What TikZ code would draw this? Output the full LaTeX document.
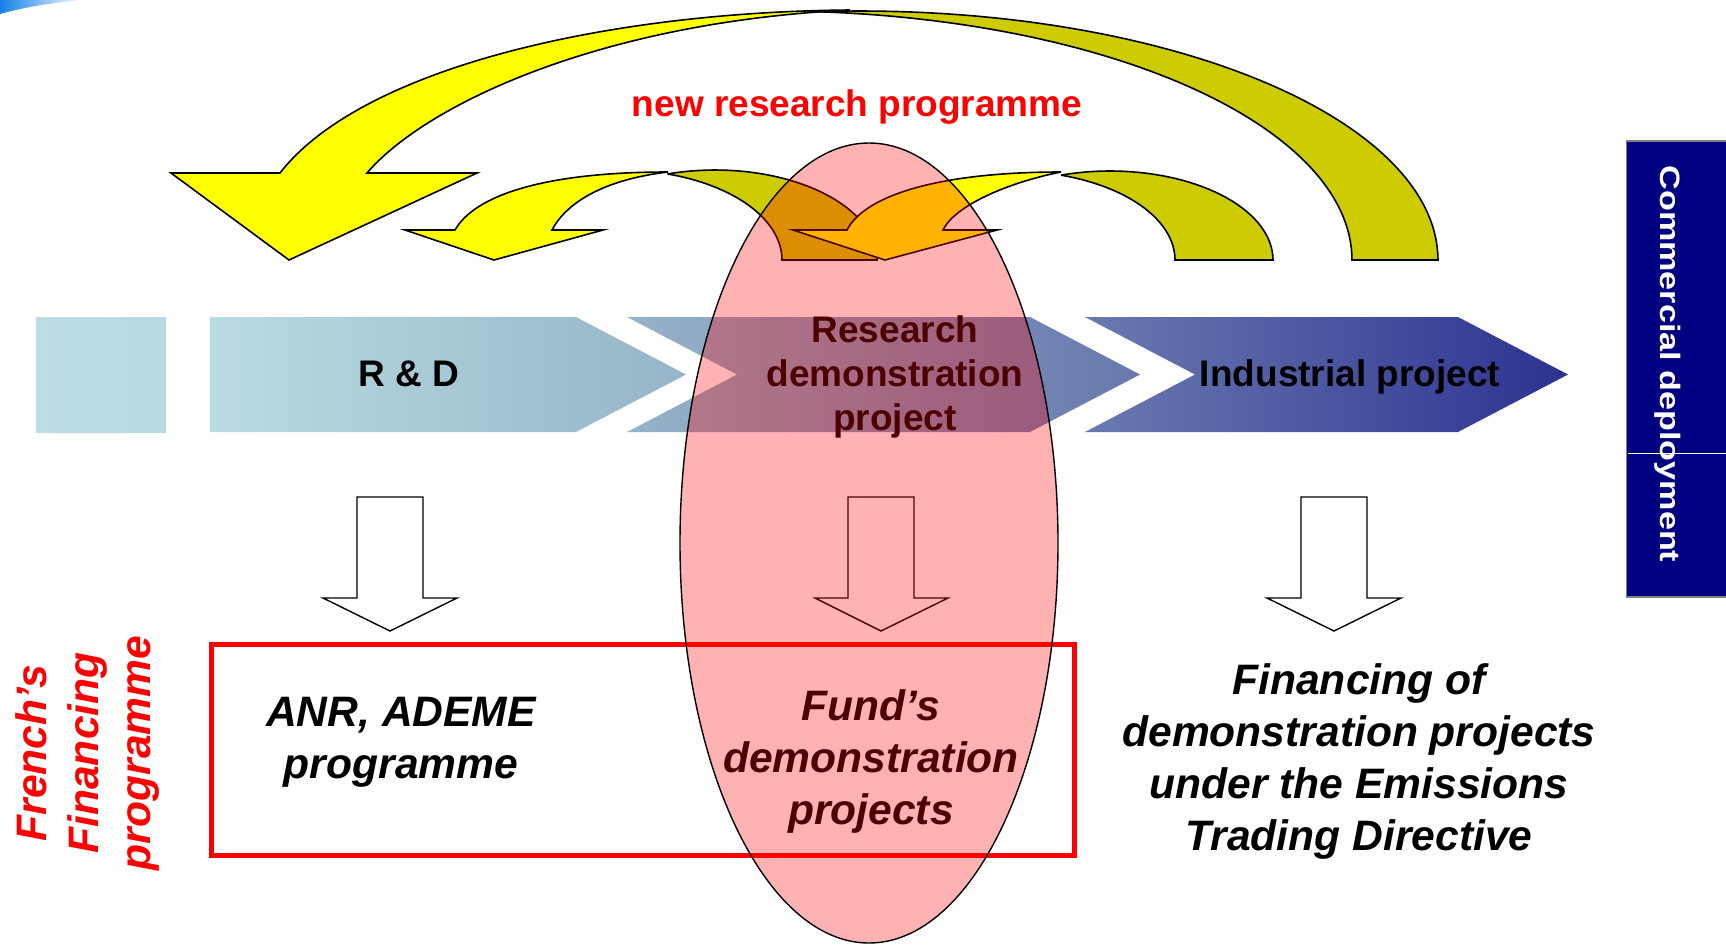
\documentclass[tikz,border=0pt]{standalone}
\usepackage{fontspec}
\setmainfont{Liberation Sans}
\newfontfamily\cdfont[FakeStretch=1.22]{Liberation Sans}
\definecolor{ylw}{RGB}{255,255,0}
\definecolor{olv}{RGB}{204,204,0}
\definecolor{gR1}{RGB}{186,223,226}
\definecolor{gR2}{RGB}{182,218,224}
\definecolor{gA1}{RGB}{184,220,225}
\definecolor{gA2}{RGB}{150,180,200}
\definecolor{gB1}{RGB}{150,179,201}
\definecolor{gB2}{RGB}{104,120,174}
\definecolor{gC1}{RGB}{106,122,176}
\definecolor{gC2}{RGB}{44,50,145}
\definecolor{navyc}{RGB}{0,0,128}
\definecolor{swoosh}{RGB}{20,130,230}
\tikzset{
  frontarr/.style={fill=ylw, draw=black, line width=0.8pt, line join=miter},
  backarr/.style={fill=olv, draw=black, line width=0.8pt, line join=miter},
  blockarr/.style={fill=white, draw=black, line width=0.7pt, line join=miter},
  lbl/.style={font=\bfseries\fontsize{18.5}{22}\selectfont, align=center, inner sep=0pt},
  itl/.style={font=\bfseries\itshape\fontsize{21.3}{26}\selectfont, align=center, inner sep=0pt},
}
\begin{document}
\begin{tikzpicture}[x=0.5pt,y=-0.5pt]
\useasboundingbox (0,0) rectangle (1726,944);
\fill[white] (0,0) rectangle (1726,944);

% logo fragment top-left
\shade[left color=swoosh, right color=white] (0,0) -- (85,0) .. controls (55,2) and (25,7) .. (0,14) -- cycle;

% process chevrons
\shade[left color=gR1, right color=gR2] (36,317) rectangle (166,432);
\shade[left color=gA1, right color=gA2]
  (210,317) -- (576,317) -- (686,374.5) -- (576,432) -- (210,432) -- cycle;
\shade[left color=gB1, right color=gB2]
  (627,317) -- (1030,317) -- (1140,374.5) -- (1030,432) -- (627,432) -- (737,374.5) -- cycle;
\shade[left color=gC1, right color=gC2]
  (1085,317) -- (1458,317) -- (1568,374.5) -- (1458,432) -- (1085,432) -- (1195,374.5) -- cycle;

% big curved arrow (industrial -> R&D)
\filldraw[backarr]
  plot[domain=0:94.27,samples=60,variable=\t] ({860+578*cos(\t)},{260-249*sin(\t)})
  -- plot[domain=0:85.73,samples=60,variable=\t] ({774+578*cos(85.73-\t)},{260-249*sin(85.73-\t)})
  -- cycle;
\filldraw[frontarr] (280,173) .. controls (360,70) and (600,12) .. (850,10)
  .. controls (600,22) and (425,105) .. (367,173) -- (477,173) -- (289,260) -- (171,173) -- cycle;

% medium curved arrow (research demo -> R&D)
\filldraw[backarr]
  plot[domain=0:107.05,samples=40,variable=\t] ({715+162*cos(\t)},{260-90*sin(\t)})
  -- plot[domain=0:72.95,samples=40,variable=\t] ({620+162*cos(72.95-\t)},{260-90*sin(72.95-\t)})
  -- cycle;
\filldraw[frontarr] (455,230) .. controls (475,195) and (545,172) .. (668,172)
  .. controls (600,180) and (565,205) .. (552,230) -- (603,230) -- (494,260) -- (405,230) -- cycle;

% medium curved arrow (industrial -> research demo)
\filldraw[backarr]
  plot[domain=0:107.5,samples=40,variable=\t] ({1110+163*cos(\t)},{260-89*sin(\t)})
  -- plot[domain=0:72.5,samples=40,variable=\t] ({1012+163*cos(72.5-\t)},{260-89*sin(72.5-\t)})
  -- cycle;
\filldraw[frontarr] (847,230) .. controls (865,195) and (940,172) .. (1061,172)
  .. controls (1010,182) and (955,205) .. (943,230) -- (997,230) -- (885,260) -- (793,230) -- cycle;

% hollow down arrows
\filldraw[blockarr] (357,497) -- (423,497) -- (423,598) -- (457,598) -- (390,631) -- (323,598) -- (357,598) -- cycle;
\filldraw[blockarr] (848,497) -- (914,497) -- (914,598) -- (948,598) -- (881,631) -- (815,598) -- (848,598) -- cycle;
\filldraw[blockarr] (1301,497) -- (1367,497) -- (1367,598) -- (1401,598) -- (1334,631) -- (1267,598) -- (1301,598) -- cycle;

% red frame
\draw[red, line width=2.5pt] (211.5,644.5) rectangle (1074,855.5);

% commercial deployment bar
\filldraw[fill=navyc, draw=gray, line width=0.6pt] (1626.5,141) rectangle (1740,597);
\draw[white, line width=0.5pt] (1628,453) -- (1726,453);
\node[font=\cdfont\bfseries\fontsize{14}{16}\selectfont, text=white, rotate=-90, inner sep=0pt] (comm) at (1668,364) {Commercial deployment};

% labels
\node[lbl, text=red, anchor=base] (newrp) at (857,116) {new research programme};
\node[lbl, anchor=base] (rd) at (409,386) {R \& D};
\node[lbl] (rdp) at (895,377) {Research\\demonstration\\project};
\node[lbl, anchor=base] (ind) at (1350,386) {Industrial project};
\node[itl] (anr) at (401,742) {ANR, ADEME\\programme};
\node[itl] (fund) at (871,761) {Fund’s\\demonstration\\projects};
\node[itl] (fin) at (1359,761) {Financing of\\demonstration projects\\under the Emissions\\Trading Directive};
\node[itl, text=red, rotate=90] (french) at (87,753) {French’s\\Financing\\programme};

% overlay ellipse
\draw[fill=red, fill opacity=0.3, draw=black, line width=0.7pt] (869,543) ellipse [x radius=189, y radius=400];
\end{tikzpicture}
\end{document}
